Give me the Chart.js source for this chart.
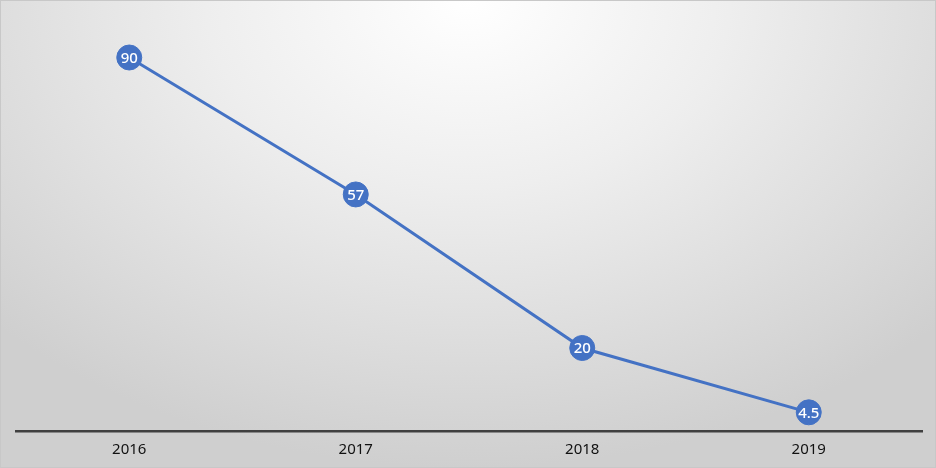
<!DOCTYPE html>
<html><head><meta charset="utf-8">
<script src="https://cdn.jsdelivr.net/npm/chart.js@4"></script>
<style>
html,body{margin:0;padding:0;}
body{width:936px;height:468px;overflow:hidden;background:radial-gradient(ellipse 70% 100% at 50% 0%, #ffffff 0%, #eeeeee 40%, #dcdcdc 75%, #cfcfcf 100%);}
#wrap{width:936px;height:468px;position:relative;box-sizing:border-box;border:1px solid #c8c8c8;}
canvas{position:absolute;left:0;top:0;}
</style></head><body>
<div id="wrap"><canvas id="c" width="936" height="468"></canvas></div>
<script>
const categories = ['2016','2017','2018','2019'];
const values = [90, 57, 20, 4.5];
const valueLabels = ['90','57','20','4.5'];

const labelPlugin = {
  id:'pointLabels',
  afterDatasetsDraw(chart){
    const ctx = chart.ctx;
    const meta = chart.getDatasetMeta(0);
    ctx.save();
    ctx.fillStyle = '#ffffff';
    ctx.font = '500 15px "Noto Sans"';
    ctx.textAlign = 'center';
    ctx.textBaseline = 'middle';
    meta.data.forEach((p,i)=>{ ctx.fillText(valueLabels[i], p.x, p.y+1); });
    ctx.restore();
  }
};

new Chart(document.getElementById('c'), {
  type:'line',
  data:{ labels:categories, datasets:[{ data:values, borderColor:'#4472C4', borderWidth:3,
    pointRadius:12.5, pointHoverRadius:12.5, pointBackgroundColor:'#4472C4', pointBorderColor:'#4472C4', pointBorderWidth:1, tension:0 }]},
  options:{
    responsive:false, animation:false,
    layout:{padding:{left:15,right:15,top:15,bottom:0}},
    plugins:{legend:{display:false}, tooltip:{enabled:false}},
    scales:{
      x:{ offset:true, grid:{display:false, drawTicks:false}, border:{display:true,color:'#404040',width:2.5},
          ticks:{color:'#111111', font:{family:'"Noto Sans"', size:15}, padding:10} },
      y:{ display:false, min:0, max:100 }
    }
  },
  plugins:[labelPlugin]
});
</script>
</body></html>
